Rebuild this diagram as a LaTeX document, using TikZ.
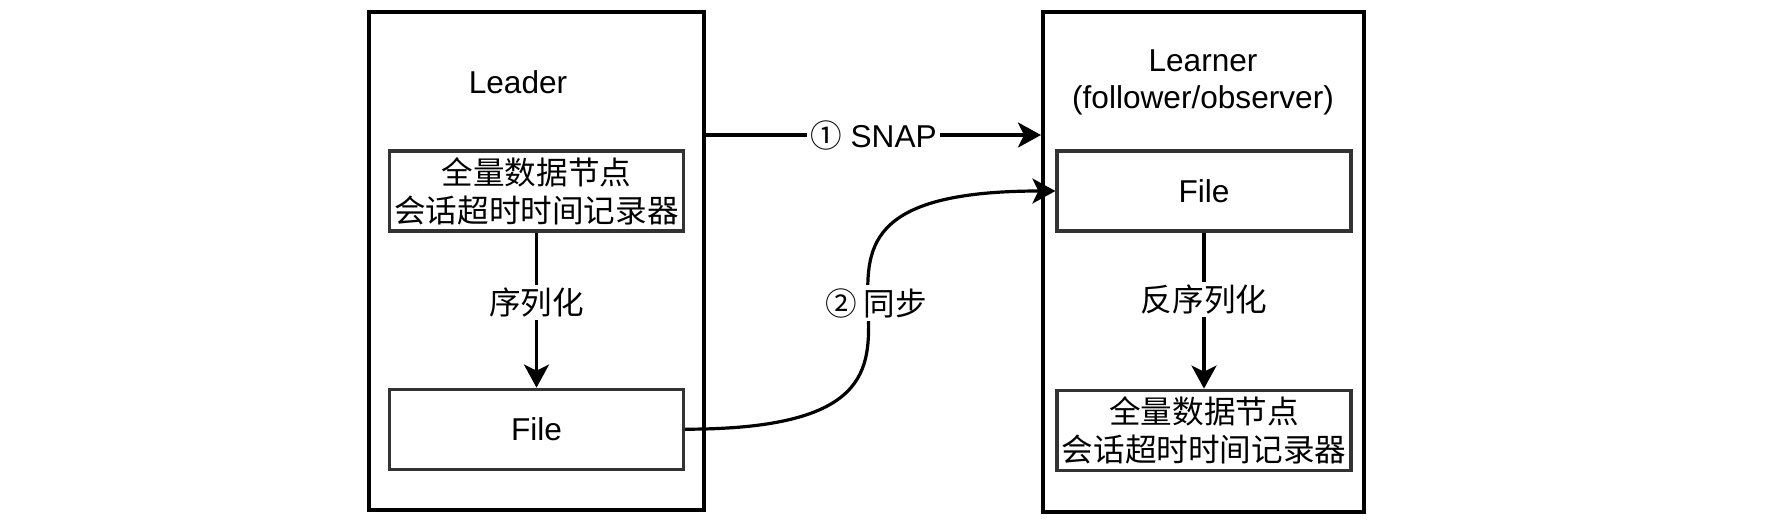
\documentclass[tikz,border=0pt]{standalone}
\usepackage{fontspec}
\setmainfont{Liberation Sans}
\newfontfamily\cjk{Noto Sans CJK SC}
\usepackage{tikz}
\usetikzlibrary{positioning, arrows.meta}

\begin{document}
\begin{tikzpicture}
[
x=0.5pt, y=-0.5pt,
font=\fontsize{15.8pt}{18.5pt}\selectfont,
role-a/.style={draw=black, line width=2pt, minimum width=167.5pt, minimum height=249pt, inner sep=0pt},
role-b/.style={draw=black, line width=2pt, minimum width=160.5pt, minimum height=250pt, inner sep=0pt},
store-a/.style={draw=black!80, line width=1.6pt, minimum width=147pt, minimum height=40pt, align=center, inner sep=0pt},
text-a/.style={black, align=center, inner sep=1pt},
text-b/.style={black, fill=white, inner sep=1.5pt},
text-cjk/.style={font=\fontsize{15.8pt}{19pt}\selectfont\cjk},
link-a/.style={line width=1.6pt, -{Stealth[length=11.5pt, width=12.5pt, inset=3pt]}}
]

\useasboundingbox (0,0) rectangle (1774,526);

\node (leader)       [role-a]                                 at (536.5,261) {};
\node (leader-name)  [text-a]                                 at (518,82)    {Leader};
\node (leader-data)  [store-a, text-cjk]                      at (536.5,191) {全量数据节点\\会话超时时间记录器};
\node (leader-file)  [store-a, below = 77.50pt of leader-data]               {File};
\node (learner)      [role-b]                                 at (1203.5,262) {};
\node (learner-name) [text-a]                                 at (1203,82)   {Learner\\(follower/observer)};
\node (learner-file) [store-a]                                at (1204,191)  {File};
\node (learner-data) [store-a, text-cjk, below = 78.00pt of learner-file]   {全量数据节点\\会话超时时间记录器};

\coordinate (snap-from) at ([yshift=-62.5pt]leader.north east);

\draw [link-a] (leader-data) -- (leader-file) node[text-b, text-cjk, pos=0.45] {序列化};
\draw [link-a] (learner-file) -- (learner-data) node[text-b, text-cjk, pos=0.43] {反序列化};
\draw [link-a] (snap-from) -- (snap-from -| learner.west) node[text-b, pos=0.50] {{\cjk ①} SNAP};
\draw [link-a] (leader-file.east) .. controls (leader-file.east -| learner-file.west) and (learner-file.west -| leader-file.east)
                                  .. (learner-file.west) node[text-b, text-cjk, pos=0.50, xshift=3pt, yshift=3.5pt] {② 同步};

\end{tikzpicture}
\end{document}
